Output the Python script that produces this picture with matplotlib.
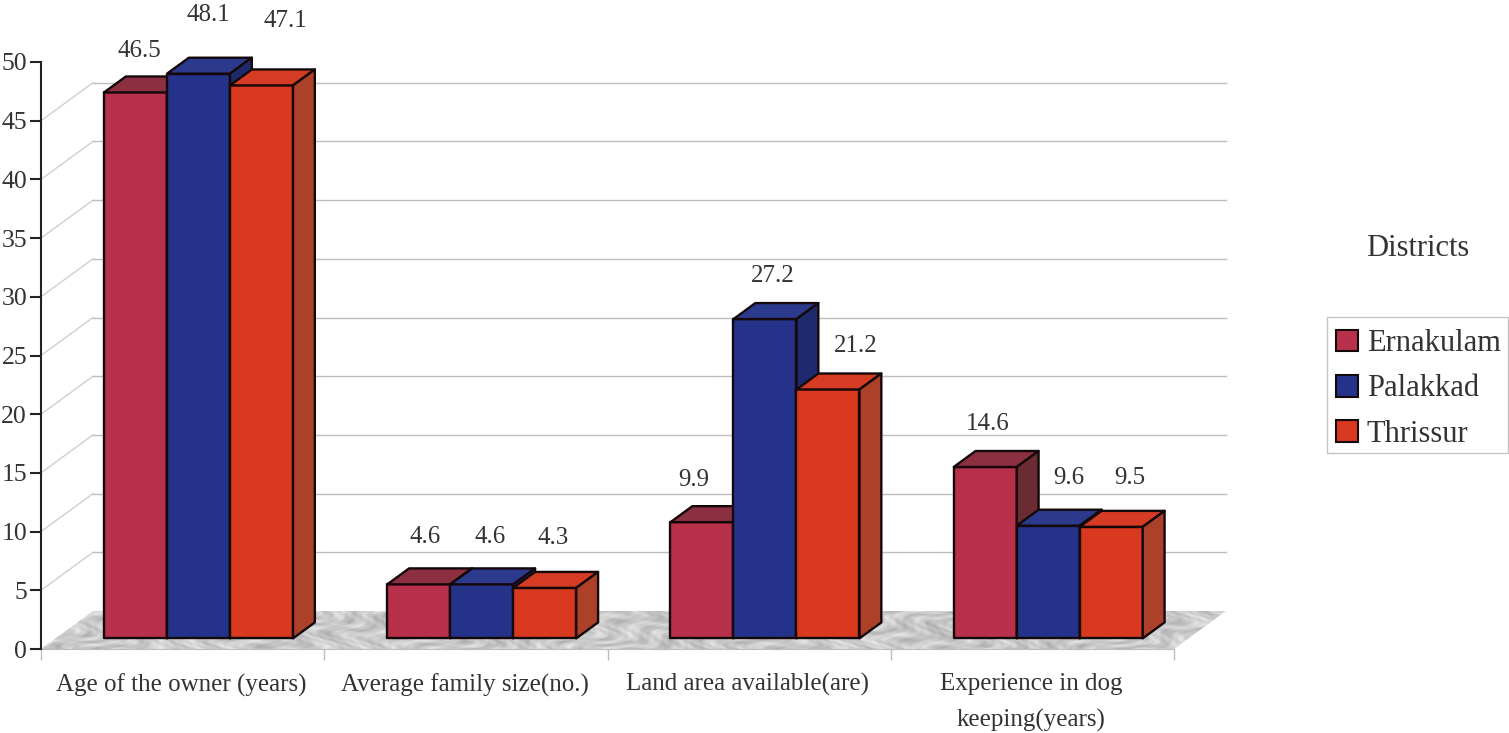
import matplotlib
matplotlib.use("Agg")
import matplotlib.pyplot as plt
from matplotlib.patches import Patch, Polygon, Rectangle
import numpy as np

plt.rcParams['font.family'] = ['Liberation Serif', 'DejaVu Serif']

categories = ["Age of the owner (years)", "Average family size(no.)",
              "Land area available(are)", "Experience in dog\nkeeping(years)"]
ernakulam = [46.5, 4.6, 9.9, 14.6]
palakkad = [48.1, 4.6, 27.2, 9.6]
thrissur = [47.1, 4.3, 21.2, 9.5]
districts = ["Ernakulam", "Palakkad", "Thrissur"]
yticks = [0, 5, 10, 15, 20, 25, 30, 35, 40, 45, 50]
ink = "#333333"

# front, top, side colour of each district's bars
shades = [("#b8304a", "#8c2f40", "#6a2b33"),
          ("#25328a", "#2c3a8e", "#1f2a6e"),
          ("#d8391f", "#d63c24", "#ad4029")]
# where each value label sits relative to the top front corner of its bar
label_dx = [[35, 41, 55], [38, 40, 40], [23, 39, 59], [34, 52, 50]]
label_dy = [44, 62, 67, 50, 50, 53, 45, 46, 46, 46, 51, 52]

fig = plt.figure(figsize=(15.09, 7.33), dpi=100)
ax = fig.add_axes([41 / 1509, (733 - 649) / 733, 1133 / 1509, 587 / 733])

# oblique projection: depth 1 moves a point to the back wall
px_x = 4 / 1133
px_y = 50 / 587
depth_x = 52 * px_x
depth_y = 38 * px_y


def proj(x, y, d):
    return (x + d * depth_x, y + d * depth_y)


def quad(pts, **kw):
    p = Polygon(pts, closed=True, clip_on=False, **kw)
    ax.add_patch(p)
    return p


# floor, a mottled stone texture built from warped sine waves
u, v = np.meshgrid(np.arange(0, 1190, 1.0), np.arange(0, 40, 1.0))
warp = 2.5 * np.sin(0.037 * u + 0.21 * v) + 1.8 * np.sin(0.011 * u - 0.13 * v + 1.0)
stone = (np.sin(0.13 * u - 0.31 * v + warp)
         + 0.8 * np.sin(0.29 * u + 0.17 * v + 1.7 * warp)
         + 0.6 * np.sin(0.053 * u + 0.43 * v - warp)
         + 0.4 * np.sin(0.61 * u - 0.67 * v + 2.3 * warp))
floor = quad([proj(0, 0, 0), proj(4, 0, 0), proj(4, 0, 1), proj(0, 0, 1)],
             facecolor="none", linewidth=0, zorder=1)
im = ax.imshow(202 + 11 * stone, cmap="gray", vmin=0, vmax=255, aspect="auto",
               interpolation="bilinear", origin="lower", zorder=1,
               extent=(0, 4 + depth_x, 0, depth_y))
im.set_clip_box(fig.bbox)
im.set_clip_path(floor)
ax.set_xlim(0, 4)
ax.set_ylim(0, 50)

# back wall gridlines and their run up from the axis
for val in yticks[1:-1]:
    ax.plot([0, depth_x], [val, val + depth_y], color="#cfcfcf", lw=1, clip_on=False, zorder=1)
    ax.plot([depth_x, 4 + depth_x], [val + depth_y, val + depth_y],
            color="#bdbdbd", lw=1, clip_on=False, zorder=1)

bar_w = 63 * px_x
front = 0.28
back = 0.70
series = [ernakulam, palakkad, thrissur]
k = 0
for i in range(len(categories)):
    for j in range(3):
        val = series[j][i]
        c_front, c_top, c_side = shades[j]
        x0 = i + 0.171 + j * bar_w
        x1 = x0 + bar_w
        style = dict(edgecolor="#14080a", linewidth=1.7, joinstyle="round", zorder=3 + k)
        quad([proj(x0, 0, front), proj(x1, 0, front), proj(x1, val, front), proj(x0, val, front)],
             facecolor=c_front, **style)
        quad([proj(x0, val, front), proj(x1, val, front), proj(x1, val, back), proj(x0, val, back)],
             facecolor=c_top, **style)
        quad([proj(x1, 0, front), proj(x1, 0, back), proj(x1, val, back), proj(x1, val, front)],
             facecolor=c_side, **style)
        ax.annotate(str(val), proj(x0, val, front), xytext=(label_dx[i][j], label_dy[k] - 3),
                    textcoords="offset pixels", ha="center", va="center",
                    fontsize=18, color=ink, annotation_clip=False, zorder=100)
        k += 1

# axes
for name in ["top", "right"]:
    ax.spines[name].set_visible(False)
ax.patch.set_alpha(0)
ax.spines["left"].set_color("#222222")
ax.spines["left"].set_linewidth(1.5)
ax.spines["bottom"].set_color("#bdbdbd")
ax.spines["bottom"].set_zorder(2)
ax.set_yticks(yticks)
ax.tick_params(axis="y", length=8, width=1.5, color="#222222", labelsize=18.5,
               labelcolor=ink, pad=2)
ax.set_xticks(range(5))
ax.set_xticklabels([])
ax.tick_params(axis="x", which="major", length=8, width=1, color="#bdbdbd")
ax.set_xticks([i + 0.495 for i in range(4)], minor=True)
ax.set_xticklabels(categories, minor=True, fontsize=18, color=ink, linespacing=1.75, va="top")
ax.tick_params(axis="x", which="minor", length=0, pad=17.5)

# legend, with its box drawn separately so the rows can sit lower in it
fig.add_artist(Rectangle((1327 / 1509, (733 - 453) / 733), 181 / 1509, 136 / 733,
                         transform=fig.transFigure, facecolor="white",
                         edgecolor="#c4c4c4", linewidth=1))
handles = [Patch(facecolor=shades[j][0], edgecolor="#14080a", linewidth=1.5) for j in range(3)]
leg = fig.legend(handles, districts, loc="upper left",
                 bbox_to_anchor=(1328 / 1509, (733 - 321) / 733), borderaxespad=0,
                 fontsize=22, handlelength=0.72, handleheight=0.72, handletextpad=0.28,
                 labelspacing=0.53, borderpad=0.27, fancybox=False, labelcolor=ink,
                 frameon=False)
fig.text(1418 / 1509, (733 - 248) / 733, "Districts", ha="center", va="center",
         fontsize=22, color=ink)

fig.savefig("out.png", dpi=100)
